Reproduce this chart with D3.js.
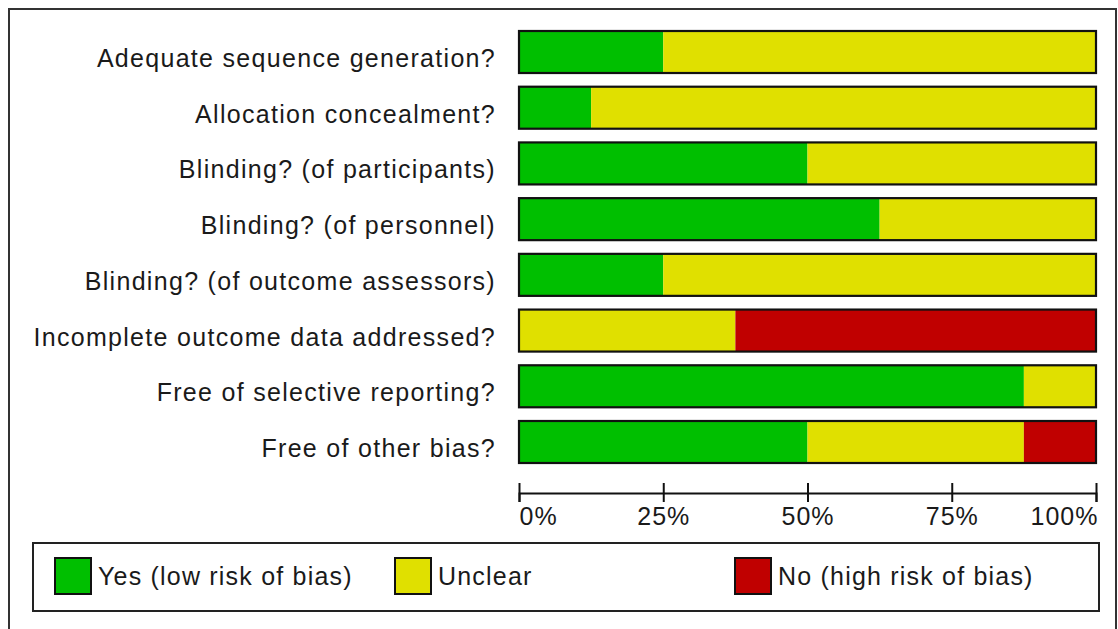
<!DOCTYPE html>
<html>
<head>
<meta charset="utf-8">
<script src="https://cdn.jsdelivr.net/npm/d3@7"></script>
<style>
  html, body { margin: 0; padding: 0; background: #fff; }
  svg text { font-family: "Liberation Sans", Arial, sans-serif; fill: #1a1a1a; }
</style>
</head>
<body>
<div id="chart"></div>
<script>
// risk of bias items, percentages of studies
const domains = [
    'Adequate sequence generation?',
    'Allocation concealment?',
    'Blinding? (of participants)',
    'Blinding? (of personnel)',
    'Blinding? (of outcome assessors)',
    'Incomplete outcome data addressed?',
    'Free of selective reporting?',
    'Free of other bias?'
];
const yesLow = [25, 12.5, 50, 62.5, 25, 0, 87.5, 50];
const unclear = [75, 87.5, 50, 37.5, 75, 37.5, 12.5, 37.5];
const noHigh = [0, 0, 0, 0, 0, 62.5, 0, 12.5];

const keys = ['yes', 'unclear', 'no'];
const legendLabels = ['Yes (low risk of bias)', 'Unclear', 'No (high risk of bias)'];
const colors = ['#00bf00', '#e0e000', '#c00000'];
const tickValues = [0, 25, 50, 75, 100];

const wSvg = 1118, hSvg = 629;

const rows = domains.map((d, i) => ({ domain: d, yes: yesLow[i], unclear: unclear[i], no: noHigh[i] }));

const svg = d3.select('#chart')
    .append('svg')
    .attr('width', wSvg)
    .attr('height', hSvg);

// outer frame
svg.append('rect')
    .attr('x', 9).attr('y', 9)
    .attr('width', 1107).attr('height', 640)
    .attr('fill', 'none')
    .attr('stroke', '#333')
    .attr('stroke-width', 2);

const xScale = d3.scaleLinear().domain([0, 100]).range([519, 1096]);
const yScale = d3.scaleBand().domain(domains).range([31, 463]).paddingInner(0.246).paddingOuter(0);
const colorScale = d3.scaleOrdinal(keys, colors);

const stacked = d3.stack().keys(keys)(rows);

const gBars = svg.append('g').classed('bars', true);

gBars.selectAll('g.layer')
    .data(stacked)
    .enter()
    .append('g')
    .classed('layer', true)
    .attr('fill', d => colorScale(d.key))
    .selectAll('rect')
    .data(d => d)
    .enter()
    .append('rect')
    .attr('x', d => xScale(d[0]))
    .attr('y', d => yScale(d.data.domain))
    .attr('width', d => xScale(d[1]) - xScale(d[0]))
    .attr('height', yScale.bandwidth());

// outline per bar
gBars.selectAll('rect.outline')
    .data(rows)
    .enter()
    .append('rect')
    .classed('outline', true)
    .attr('x', xScale(0))
    .attr('y', d => yScale(d.domain))
    .attr('width', xScale(100) - xScale(0))
    .attr('height', yScale.bandwidth())
    .attr('fill', 'none')
    .attr('stroke', '#111')
    .attr('stroke-width', 2.2);

// row labels
svg.append('g')
    .classed('row-labels', true)
    .selectAll('text')
    .data(domains)
    .enter()
    .append('text')
    .attr('x', 496)
    .attr('y', d => yScale(d) + yScale.bandwidth() / 2 + 15)
    .attr('text-anchor', 'end')
    .style('font-size', '25px')
    .style('letter-spacing', '1.3px')
    .text(d => d);

// x axis
const xAx = svg.append('g')
    .attr('transform', 'translate(0, 493)')
    .call(d3.axisBottom(xScale).tickValues(tickValues).tickSize(9).tickPadding(5).tickFormat(d => d + '%'));

xAx.select('.domain').attr('stroke', '#111').attr('stroke-width', 2);
xAx.selectAll('.tick line').attr('y1', -10).attr('stroke', '#111').attr('stroke-width', 2);
xAx.selectAll('.tick text')
    .attr('fill', '#1a1a1a')
    .style('font-size', '25px')
    .style('letter-spacing', '1px')
    .attr('text-anchor', (d, i) => i === 0 ? 'start' : (i === tickValues.length - 1 ? 'end' : 'middle'))
    .attr('dx', (d, i) => i === tickValues.length - 1 ? 2 : 0);

// legend
const gLegend = svg.append('g').classed('legend', true);
gLegend.append('rect')
    .attr('x', 33).attr('y', 543)
    .attr('width', 1066).attr('height', 68)
    .attr('fill', '#fff')
    .attr('stroke', '#222')
    .attr('stroke-width', 2);

const legendX = [55, 395, 735];
const items = gLegend.selectAll('g.item')
    .data(keys)
    .enter()
    .append('g')
    .classed('item', true)
    .attr('transform', (d, i) => `translate(${legendX[i]}, 558)`);

items.append('rect')
    .attr('width', 36).attr('height', 36)
    .attr('fill', d => colorScale(d))
    .attr('stroke', '#111')
    .attr('stroke-width', 2);

items.append('text')
    .attr('x', 43)
    .attr('y', 27)
    .style('font-size', '25px')
    .style('letter-spacing', '1.2px')
    .text((d, i) => legendLabels[i]);
</script>
</body>
</html>
